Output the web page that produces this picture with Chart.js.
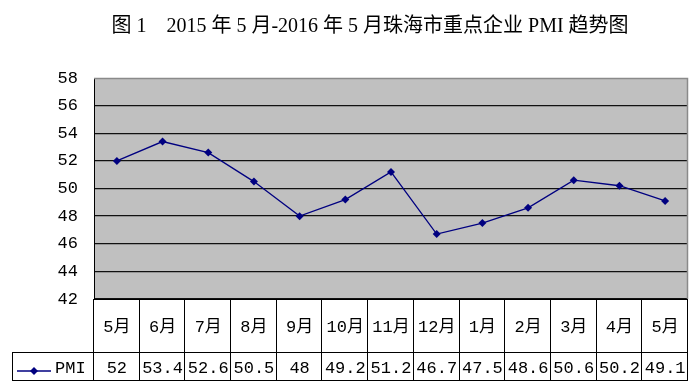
<!DOCTYPE html>
<html>
<head>
<meta charset="utf-8">
<script src="https://cdn.jsdelivr.net/npm/chart.js@4"></script>
<style>
html,body{margin:0;padding:0;background:#fff;}
#wrap{width:700px;height:392px;position:relative;}
</style>
</head>
<body>
<div id="wrap"><canvas id="c" width="700" height="392"></canvas></div>
<script>
const titleText = '图 1    2015 年 5 月-2016 年 5 月珠海市重点企业 PMI 趋势图';
const categories = ['5月','6月','7月','8月','9月','10月','11月','12月','1月','2月','3月','4月','5月'];
const seriesName = 'PMI';
const pmiValues = [52, 53.4, 52.6, 50.5, 48, 49.2, 51.2, 46.7, 47.5, 48.6, 50.6, 50.2, 49.1];
const yMin = 42, yMax = 58, yStep = 2;

const NAVY = '#000080';
const monoFont = '"Liberation Mono", "DejaVu Sans Mono", "Noto Sans CJK SC", monospace';

const tablePlugin = {
  id: 'tablePlugin',
  beforeDraw(chart) {
    const {ctx, chartArea: a} = chart;
    ctx.save();
    ctx.fillStyle = '#C0C0C0';
    ctx.fillRect(a.left, a.top, a.right - a.left, a.bottom - a.top);
    ctx.restore();
  },
  afterDraw(chart) {
    const {ctx, chartArea: a} = chart;
    const xs = chart.scales.x;
    const n = categories.length;
    const colW = (a.right - a.left) / n;
    const rowTop = a.bottom, rowMid = 352, rowBot = 380, legendLeft = 12;
    ctx.save();
    // title
    ctx.fillStyle = '#000';
    ctx.font = '20px "Liberation Serif", "Noto Sans CJK SC", serif';
    ctx.textAlign = 'center';
    ctx.textBaseline = 'middle';
    ctx.fillText(titleText, 370, 27);

    // plot border right/top (gray)
    ctx.strokeStyle = '#8a8a8a';
    ctx.lineWidth = 1.5;
    ctx.beginPath();
    ctx.moveTo(a.left, a.top + 0.5);
    ctx.lineTo(a.right - 0.5, a.top + 0.5);
    ctx.lineTo(a.right - 0.5, a.bottom);
    ctx.stroke();

    // table lines
    ctx.strokeStyle = '#000';
    ctx.lineWidth = 1;
    ctx.beginPath();
    ctx.moveTo(a.left, rowTop + 0.5); ctx.lineTo(a.right, rowTop + 0.5);
    ctx.moveTo(legendLeft, rowMid + 0.5); ctx.lineTo(a.right, rowMid + 0.5);
    ctx.moveTo(legendLeft, rowBot + 0.5); ctx.lineTo(a.right, rowBot + 0.5);
    ctx.moveTo(legendLeft + 0.5, rowMid); ctx.lineTo(legendLeft + 0.5, rowBot);
    for (let i = 0; i <= n; i++) {
      const x = Math.round(a.left + i * colW) - 0.5;
      ctx.moveTo(x, rowTop); ctx.lineTo(x, rowBot);
    }
    ctx.stroke();

    // category labels and values
    ctx.fillStyle = '#000';
    ctx.textAlign = 'center';
    ctx.textBaseline = 'middle';
    for (let i = 0; i < n; i++) {
      const cx = xs.getPixelForValue(i);
      ctx.font = '17px ' + monoFont;
      ctx.fillText(categories[i], cx, 327);
      ctx.fillText(String(pmiValues[i]), cx, 368);
    }

    // legend key
    ctx.strokeStyle = NAVY;
    ctx.lineWidth = 1.5;
    ctx.beginPath();
    ctx.moveTo(17, 371); ctx.lineTo(51, 371);
    ctx.stroke();
    ctx.fillStyle = NAVY;
    ctx.beginPath();
    ctx.moveTo(34, 367); ctx.lineTo(38, 371); ctx.lineTo(34, 375); ctx.lineTo(30, 371);
    ctx.closePath(); ctx.fill();
    ctx.fillStyle = '#000';
    ctx.textAlign = 'left';
    ctx.font = '17px ' + monoFont;
    ctx.fillText(seriesName, 55, 368);
    ctx.restore();
  }
};

new Chart(document.getElementById('c'), {
  type: 'line',
  data: {
    labels: categories,
    datasets: [{
      label: seriesName,
      data: pmiValues,
      borderColor: NAVY,
      backgroundColor: NAVY,
      borderWidth: 1.3,
      pointStyle: 'rectRot',
      pointRadius: 4,
      pointBorderWidth: 0,
      tension: 0
    }]
  },
  options: {
    responsive: false,
    animation: false,
    devicePixelRatio: 1,
    layout: {padding: {top: 78, right: 12, left: 0, bottom: 0}},
    plugins: {legend: {display: false}, title: {display: false}, tooltip: {enabled: false}},
    scales: {
      x: {
        offset: true,
        grid: {display: false},
        border: {display: false},
        ticks: {display: false},
        afterFit(s) { s.height = 93; }
      },
      y: {
        min: yMin, max: yMax,
        ticks: {stepSize: yStep, color: '#000', padding: 16,
          font: {family: monoFont, size: 17}},
        grid: {
          color: (c) => (c.tick && c.tick.value === yMax) ? 'rgba(0,0,0,0)' : '#111',
          lineWidth: 1.3,
          drawTicks: false
        },
        border: {display: true, color: '#000', width: 1},
        afterFit(s) { s.width = 94; }
      }
    }
  },
  plugins: [tablePlugin]
});
</script>
</body>
</html>
